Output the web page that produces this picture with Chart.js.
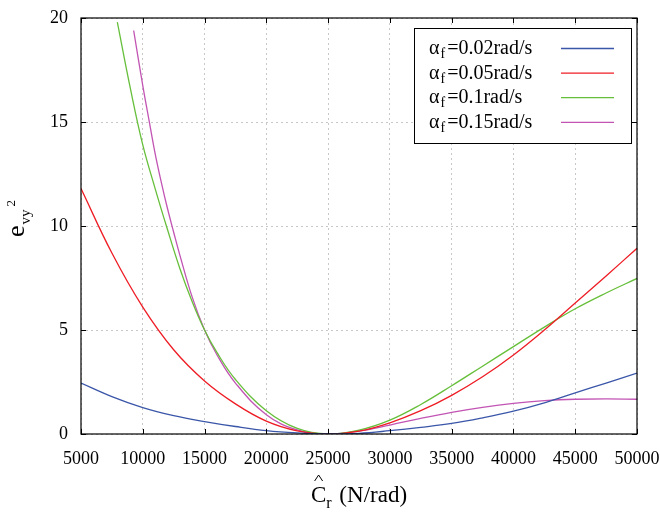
<!DOCTYPE html>
<html>
<head>
<meta charset="utf-8">
<script src="https://cdn.jsdelivr.net/npm/chart.js@4/dist/chart.umd.min.js"></script>
<style>
  html, body { margin: 0; padding: 0; background: #fff; }
  #wrap { width: 660px; height: 514px; }
</style>
</head>
<body>
<div id="wrap"><canvas id="errChart" width="660" height="514"></canvas></div>
<script>
// Data
const xTicks = [5000, 10000, 15000, 20000, 25000, 30000, 35000, 40000, 45000, 50000];
const yTicks = [0, 5, 10, 15, 20];

const gridX = [5000, 7500, 10000, 12500, 15000, 17500, 20000, 22500, 25000, 27500,
               30000, 32500, 35000, 37500, 40000, 42500, 45000, 47500, 50000];

const blueY = [2.45, 1.8, 1.27, 0.88, 0.6, 0.36, 0.16, 0.05, 0, 0.03,
               0.16, 0.32, 0.51, 0.78, 1.1, 1.5, 1.98, 2.45, 2.93];
const redY = [11.8, 8.7, 6.1, 4.05, 2.55, 1.45, 0.62, 0.15, 0, 0.14,
              0.54, 1.12, 1.86, 2.75, 3.8, 5.0, 6.3, 7.6, 8.93];

const greenX = [7940, 9000, 10000, 11000, 12000, 13000, 14000, 15000, 16000, 17500, 20000, 22500,
                25000, 27500, 30000, 32500, 35000, 37500, 40000, 42500, 45000, 47500, 50000];
const greenY = [19.8, 16.6, 13.9, 11.8, 9.83, 7.96, 6.36, 5.0, 3.92, 2.62, 1.12, 0.27,
                0, 0.19, 0.67, 1.42, 2.32, 3.26, 4.2, 5.14, 6.02, 6.78, 7.48];

const magentaX = [9263, 10000, 10500, 11000, 11500, 12000, 12500, 13000, 14000, 15000, 16000, 17500,
                  20000, 22500, 25000, 27500, 30000, 32500, 35000, 37500, 40000, 42500,
                  45000, 47500, 50000];
const magentaY = [19.4, 16.75, 15.1, 13.48, 12.1, 10.84, 9.7, 8.6, 6.58, 5.0, 3.81, 2.45,
                  0.93, 0.2, 0, 0.14, 0.43, 0.75, 1.04, 1.28, 1.47, 1.6,
                  1.67, 1.69, 1.67];

const seriesNames = ['0.02rad/s', '0.05rad/s', '0.1rad/s', '0.15rad/s'];
const seriesColors = ['#3a56a8', '#ee1c24', '#66bf3a', '#c254b4'];

const serif = "'Liberation Serif', serif";

function toPoints(xs, ys) {
    return xs.map((x, i) => ({ x: x, y: ys[i] }));
}

function makeDataset(i, xs, ys) {
    return {
        label: seriesNames[i],
        data: toPoints(xs, ys),
        borderColor: seriesColors[i],
        backgroundColor: seriesColors[i],
        borderWidth: 1.3,
        pointRadius: 0,
        fill: false,
        tension: 0.4
    };
}

// Drop the extra room Chart.js keeps for edge labels
function noEdgePadding(scale) {
    scale.paddingLeft = 0;
    scale.paddingRight = 0;
    scale.paddingTop = 0;
    scale.paddingBottom = 0;
}

// Frame, inward ticks, legend box and axis titles
const decorations = {
    id: 'decorations',
    afterDraw(chart) {
        const ctx = chart.ctx;
        const area = chart.chartArea;
        const xs = chart.scales.x;
        const ys = chart.scales.y;
        ctx.save();

        // frame
        ctx.strokeStyle = '#000';
        ctx.lineWidth = 1.2;
        ctx.strokeRect(area.left, area.top, area.right - area.left, area.bottom - area.top);

        // inward ticks on all sides
        ctx.lineWidth = 1;
        const t = 5;
        ctx.beginPath();
        xTicks.forEach(v => {
            const px = Math.round(xs.getPixelForValue(v)) + 0.5;
            ctx.moveTo(px, area.bottom); ctx.lineTo(px, area.bottom - t);
            ctx.moveTo(px, area.top); ctx.lineTo(px, area.top + t);
        });
        yTicks.forEach(v => {
            const py = Math.round(ys.getPixelForValue(v)) + 0.5;
            ctx.moveTo(area.left, py); ctx.lineTo(area.left + t, py);
            ctx.moveTo(area.right, py); ctx.lineTo(area.right - t, py);
        });
        ctx.stroke();

        // legend
        const boxL = 414, boxT = 28, boxR = 631, boxB = 143;
        ctx.fillStyle = '#fff';
        ctx.fillRect(boxL, boxT, boxR - boxL, boxB - boxT);
        ctx.strokeStyle = '#000';
        ctx.lineWidth = 1;
        ctx.strokeRect(boxL + 0.5, boxT + 0.5, boxR - boxL, boxB - boxT);
        chart.data.datasets.forEach((ds, i) => {
            const cy = 48 + i * 24.6;
            let x = 429;
            ctx.fillStyle = '#000';
            ctx.textBaseline = 'alphabetic';
            ctx.textAlign = 'left';
            ctx.font = '20px ' + serif;
            ctx.fillText('\u03b1', x, cy + 6);
            x += ctx.measureText('\u03b1').width;
            ctx.font = '14px ' + serif;
            ctx.fillText('f', x + 1, cy + 10);
            x += ctx.measureText('f').width + 3;
            ctx.font = '20px ' + serif;
            ctx.fillText('=' + ds.label, x, cy + 6);
            ctx.strokeStyle = ds.borderColor;
            ctx.lineWidth = 1.3;
            ctx.beginPath();
            ctx.moveTo(561, cy + 0.5);
            ctx.lineTo(614, cy + 0.5);
            ctx.stroke();
        });

        // x title: C-hat sub r (N/rad)
        ctx.fillStyle = '#000';
        ctx.strokeStyle = '#000';
        ctx.textAlign = 'left';
        ctx.textBaseline = 'alphabetic';
        const big = '23px ' + serif;
        const small = '16px ' + serif;
        ctx.font = big;
        const wC = ctx.measureText('C').width;
        const wRest = ctx.measureText(' (N/rad)').width;
        ctx.font = small;
        const wR = ctx.measureText('r').width;
        const total = wC + wR + wRest + 2;
        let tx = (area.left + area.right) / 2 - total / 2;
        const base = 502;
        ctx.font = big;
        ctx.fillText('C', tx, base);
        // hat over C
        const hc = tx + wC / 2;
        ctx.lineWidth = 1;
        ctx.beginPath();
        ctx.moveTo(hc - 4, base - 21);
        ctx.lineTo(hc, base - 27);
        ctx.lineTo(hc + 4, base - 21);
        ctx.stroke();
        ctx.font = small;
        ctx.fillText('r', tx + wC, base + 6);
        ctx.font = big;
        ctx.fillText(' (N/rad)', tx + wC + wR + 2, base);

        // y title: e sub vy sup 2, rotated
        ctx.translate(24, 237);
        ctx.rotate(-Math.PI / 2);
        ctx.font = '26px ' + serif;
        ctx.fillText('e', 0, 0);
        const wE = ctx.measureText('e').width;
        ctx.font = '15px ' + serif;
        ctx.fillText('vy', wE + 1, 6);
        const wVy = ctx.measureText('vy').width;
        ctx.font = '13px ' + serif;
        ctx.fillText('2', wE + wVy + 4, -9);
        ctx.restore();
    }
};

const ctx = document.getElementById('errChart').getContext('2d');
const errChart = new Chart(ctx, {
    type: 'line',
    data: {
        datasets: [
            makeDataset(0, gridX, blueY),
            makeDataset(1, gridX, redY),
            makeDataset(2, greenX, greenY),
            makeDataset(3, magentaX, magentaY)
        ]
    },
    options: {
        responsive: false,
        animation: false,
        layout: { padding: { top: 18, right: 23, left: 0, bottom: 0 } },
        plugins: {
            legend: { display: false },
            tooltip: { enabled: false }
        },
        scales: {
            x: {
                type: 'linear',
                min: 5000,
                max: 50000,
                afterFit: (scale) => { scale.height = 80; noEdgePadding(scale); },
                afterBuildTicks: (scale) => { scale.ticks = xTicks.map(v => ({ value: v })); },
                ticks: {
                    padding: 14,
                    maxRotation: 0,
                    autoSkip: false,
                    color: '#000',
                    font: { family: serif, size: 18 },
                    callback: (v) => String(v)
                },
                grid: {
                    drawTicks: false,
                    color: '#c8c8c8',
                    lineWidth: 1
                },
                border: { display: false, dash: [2, 3] }
            },
            y: {
                type: 'linear',
                min: 0,
                max: 20,
                afterFit: (scale) => { scale.width = 81; noEdgePadding(scale); },
                afterBuildTicks: (scale) => { scale.ticks = yTicks.map(v => ({ value: v })); },
                ticks: {
                    padding: 13,
                    color: '#000',
                    font: { family: serif, size: 18 },
                    callback: (v) => String(v)
                },
                grid: {
                    drawTicks: false,
                    color: '#c8c8c8',
                    lineWidth: 1
                },
                border: { display: false, dash: [2, 3] }
            }
        }
    },
    plugins: [decorations]
});
</script>
</body>
</html>
